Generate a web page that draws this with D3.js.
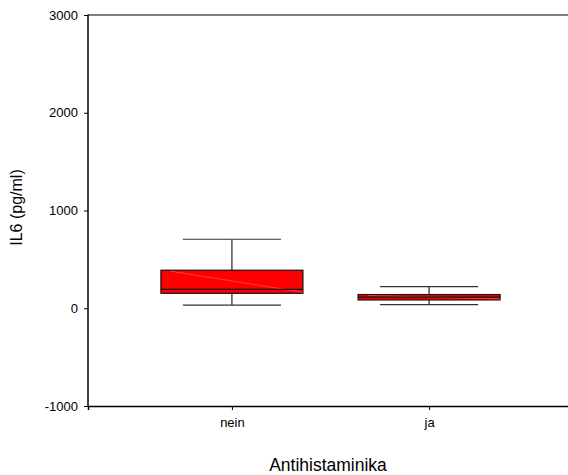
<!DOCTYPE html>
<html>
<head>
<meta charset="utf-8">
<script src="https://cdn.jsdelivr.net/npm/d3@7"></script>
<style>
body{margin:0;background:#fff;}
text{font-family:"Liberation Sans",Arial,sans-serif;}
</style>
</head>
<body>
<svg id="chart" width="568" height="475"></svg>
<script>
var groups = ['nein', 'ja'];
var whiskerLow = [31, 38];
var q1 = [153, 85];
var median = [194, 113];
var q3 = [389, 140];
var whiskerHigh = [706, 222];
var yTicks = [-1000, 0, 1000, 2000, 3000];

var plot_left = 88, plot_top = 15, plot_bottom = 406, plot_right = 573;
var box_width = 142, whisker_width = 98;

var svg = d3.select('#chart');
var x = d3.scalePoint().domain(groups).range([plot_left, plot_right]).padding(0.73);
var y = d3.scaleLinear().domain([-1000, 3000]).range([plot_bottom, plot_top]);

var boxes = groups.map(function(g, i){
    return {g: g, lo: whiskerLow[i], q1: q1[i], med: median[i], q3: q3[i], hi: whiskerHigh[i]};
});

// top frame line
svg.append('line').attr('x1', plot_left).attr('x2', 568).attr('y1', y(3000)).attr('y2', y(3000))
    .attr('stroke', '#000').attr('stroke-width', 1);

var yAxis = svg.append('g').attr('transform', 'translate(' + plot_left + ',0)')
    .call(d3.axisLeft(y).tickValues(yTicks).tickSize(4).tickPadding(6).tickFormat(String));
var xAxis = svg.append('g').attr('transform', 'translate(0,' + plot_bottom + ')')
    .call(d3.axisBottom(x).tickSize(4).tickPadding(8));
[yAxis, xAxis].forEach(function(a){
    a.select('.domain').attr('stroke', '#000').attr('stroke-width', 1.5);
    a.selectAll('.tick line').attr('stroke', '#000');
    a.selectAll('text').attr('font-size', 13).attr('fill', '#000')
        .style('font-family', '"Liberation Sans",Arial,sans-serif');
});
yAxis.select('.domain').attr('d', 'M0,' + (plot_top - 0.5) + 'V' + plot_bottom);

var bg = svg.selectAll('.box').data(boxes).enter().append('g').attr('class', 'box');
// whisker stems
bg.append('line').attr('x1', function(d){return x(d.g);}).attr('x2', function(d){return x(d.g);})
    .attr('y1', function(d){return y(d.hi);}).attr('y2', function(d){return y(d.lo);})
    .attr('stroke', '#222').attr('stroke-width', 1.2);
// whisker caps
['hi', 'lo'].forEach(function(k){
    bg.append('line').attr('x1', function(d){return x(d.g) - whisker_width/2;})
        .attr('x2', function(d){return x(d.g) + whisker_width/2;})
        .attr('y1', function(d){return y(d[k]);}).attr('y2', function(d){return y(d[k]);})
        .attr('stroke', '#333').attr('stroke-width', 1.2);
});
// box
bg.append('rect').attr('x', function(d){return x(d.g) - box_width/2;})
    .attr('y', function(d){return y(d.q3);}).attr('width', box_width)
    .attr('height', function(d){return y(d.q1) - y(d.q3);})
    .attr('fill', '#ff0000').attr('stroke', '#111').attr('stroke-width', 1.2);
// shading artefact
bg.append('line').attr('x1', function(d){return x(d.g) - box_width/2 + 10;})
    .attr('x2', function(d){return x(d.g) + box_width/2;})
    .attr('y1', function(d){return y(d.q3) + 1;}).attr('y2', function(d){return y(d.q1) - 1;})
    .attr('stroke', '#ff4a4a').attr('stroke-width', 0.8);
// median
bg.append('line').attr('x1', function(d){return x(d.g) - box_width/2;})
    .attr('x2', function(d){return x(d.g) + box_width/2;})
    .attr('y1', function(d){return y(d.med);}).attr('y2', function(d){return y(d.med);})
    .attr('stroke', '#111').attr('stroke-width', 1.2);

svg.append('text').attr('x', 328).attr('y', 471).attr('text-anchor', 'middle')
    .attr('font-size', 17.5).text('Antihistaminika');
svg.append('text').attr('transform', 'translate(22,207.5) rotate(-90)')
    .attr('text-anchor', 'middle').attr('font-size', 16).text('IL6 (pg/ml)');
</script>
</body>
</html>
